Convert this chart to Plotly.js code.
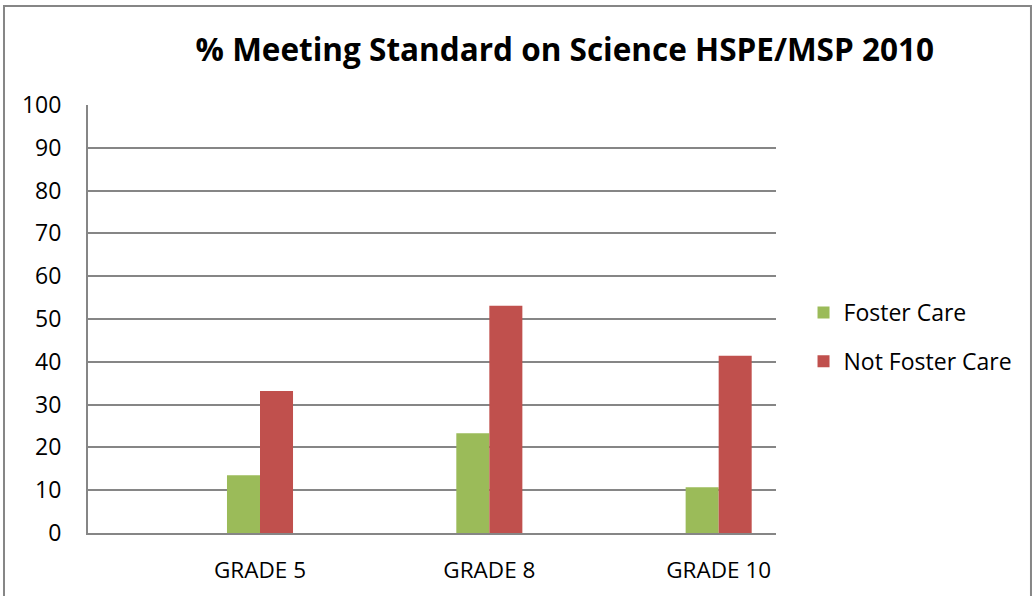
<!DOCTYPE html>
<html>
<head>
<meta charset="utf-8">
<script src="https://cdn.plot.ly/plotly-3.0.1.min.js"></script>
<style>
html,body{margin:0;padding:0;background:#fff;}
#chart{width:1032px;height:596px;}
</style>
</head>
<body>
<div id="chart"></div>
<script>
const categories = ["GRADE 5", "GRADE 8", "GRADE 10"];
const seriesNames = ["Foster Care", "Not Foster Care"];
const fosterCare = [13.5, 23.3, 10.7];
const notFosterCare = [33.2, 53.1, 41.4];
const yTicks = [0, 10, 20, 30, 40, 50, 60, 70, 80, 90, 100];
const titleText = "% Meeting Standard on Science HSPE/MSP 2010";

const FONT = "Open Sans, Noto Sans, sans-serif";

const traces = [
  {type: "bar", name: seriesNames[0], x: categories, y: fosterCare,
   marker: {color: "#9BBB59"}, legendgroup: "a", hoverinfo: "y"},
  {type: "bar", name: seriesNames[1], x: categories, y: notFosterCare,
   marker: {color: "#C0504D"}, legendgroup: "b", hoverinfo: "y"}
];

const layout = {
  width: 1032, height: 596,
  margin: {l: 88, r: 256, t: 105, b: 63, pad: 0},
  paper_bgcolor: "#ffffff", plot_bgcolor: "#ffffff",
  font: {family: FONT, color: "#000000", size: 22},
  barmode: "group", bargap: 0.712, bargroupgap: 0,
  title: {text: "<b>" + titleText + "</b>", font: {family: FONT, size: 31.5, color: "#000"},
          x: 0.693, xref: "paper", xanchor: "center", y: 0.916, yref: "container", yanchor: "middle"},
  xaxis: {type: "category", range: [-0.75, 2.25], showgrid: false, zeroline: false,
          showline: true, linecolor: "#868686", linewidth: 2,
          ticks: "outside", ticklen: 16, tickcolor: "rgba(0,0,0,0)",
          tickfont: {family: FONT, size: 22.5, color: "#000"}, fixedrange: true},
  yaxis: {range: [0, 100], tickvals: yTicks, ticktext: yTicks.map(String),
          showgrid: true, gridcolor: "#868686", gridwidth: 2, zeroline: false,
          showline: true, linecolor: "#868686", linewidth: 2,
          ticks: "outside", ticklen: 20, tickcolor: "rgba(0,0,0,0)",
          tickfont: {family: FONT, size: 23, color: "#000"}, fixedrange: true},
  legend: {x: 1.04, xanchor: "left", y: 0.458, yanchor: "middle",
           font: {family: FONT, size: 23, color: "#000"},
           traceorder: "grouped", tracegroupgap: 16, bgcolor: "rgba(0,0,0,0)"},
  showlegend: true,
  shapes: [
    {type: "rect", xref: "paper", yref: "paper",
     x0: -0.1221, x1: 1.3706, y0: -0.2, y1: 1.2313,
     line: {color: "#868686", width: 2}, fillcolor: "rgba(0,0,0,0)", layer: "below"}
  ]
};

Plotly.newPlot("chart", traces, layout, {displayModeBar: false, staticPlot: true});
</script>
</body>
</html>
